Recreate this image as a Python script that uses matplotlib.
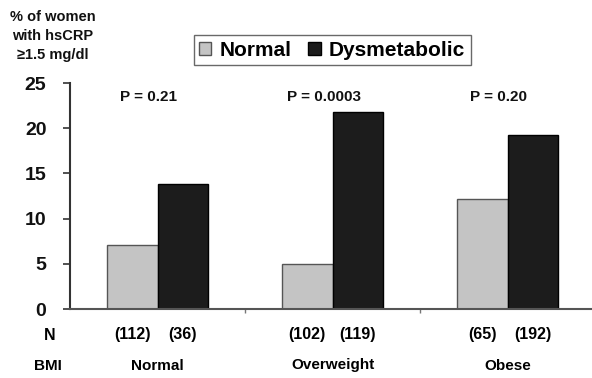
import matplotlib.pyplot as plt
import numpy as np

plt.rcParams["font.family"] = ["Liberation Sans", "DejaVu Sans"]
plt.rcParams["font.weight"] = "bold"

bmi_groups = ["Normal", "Overweight", "Obese"]
normal_pct = [7.1, 5.0, 12.2]
dysmetabolic_pct = [13.8, 21.8, 19.2]
normal_n = [112, 102, 65]
dysmetabolic_n = [36, 119, 192]
p_values = ["P = 0.21", "P = 0.0003", "P = 0.20"]
y_ticks = [0, 5, 10, 15, 20, 25]

fig = plt.figure(figsize=(5.92, 3.78), dpi=100)
ax = fig.add_axes([70 / 592, 1 - 309 / 378, 525 / 592, 226 / 378])

x = np.arange(len(bmi_groups))
w = 0.288
ax.bar(x - w / 2, normal_pct, w, color="#c4c4c4", edgecolor="#555555",
       linewidth=1.0, label="Normal")
ax.bar(x + w / 2, dysmetabolic_pct, w, color="#1c1c1c", edgecolor="#000000",
       linewidth=1.0, label="Dysmetabolic")

ax.set_xlim(-0.5, 2.5)
ax.set_ylim(0, 25)
ax.set_yticks(y_ticks)
ax.set_yticklabels([str(t) for t in y_ticks], fontsize=14, fontweight="bold",
                   color="#111111")
ax.tick_params(axis="y", length=5, width=1.2, color="#333333", pad=12)

ax.set_xticks([])
ax.set_xticks([0.5, 1.5], minor=True)
ax.tick_params(axis="x", which="minor", length=3, width=1, color="#777777")

for side in ["top", "right"]:
    ax.spines[side].set_visible(False)
ax.spines["left"].set_color("#333333")
ax.spines["left"].set_linewidth(1.5)
ax.spines["bottom"].set_color("#555555")
ax.spines["bottom"].set_linewidth(1.5)

for i, p in enumerate(p_values):
    ax.text(i - 0.05, 23.5, p, ha="center", va="center", fontsize=11,
            fontweight="bold", color="#111111")

# N and BMI rows below the axis
trans = ax.get_xaxis_transform()
for i in range(len(bmi_groups)):
    ax.text(i - w / 2, -0.115, f"({normal_n[i]})", transform=trans,
            ha="center", va="center", fontsize=11.5, fontweight="bold")
    ax.text(i + w / 2, -0.115, f"({dysmetabolic_n[i]})", transform=trans,
            ha="center", va="center", fontsize=11.5, fontweight="bold")
    ax.text(i, -0.25, bmi_groups[i], transform=trans,
            ha="center", va="center", fontsize=11, fontweight="bold")

fig.text(50 / 592, 1 - 335 / 378, "N", ha="center", va="center",
         fontsize=11.5, fontweight="bold")
fig.text(48 / 592, 1 - 366 / 378, "BMI", ha="center", va="center",
         fontsize=11, fontweight="bold")

fig.text(53 / 592, 1 - 36 / 378, "% of women\nwith hsCRP\n\u22651.5 mg/dl",
         ha="center", va="center", fontsize=10.5, fontweight="bold",
         linespacing=1.45, color="#111111")

leg = fig.legend(loc="center", bbox_to_anchor=(332 / 592, 1 - 50 / 378),
                 ncol=2, frameon=True, fancybox=False,
                 prop={"weight": "bold", "size": 15},
                 handlelength=0.6, handleheight=0.6, handletextpad=0.4,
                 columnspacing=0.8, borderpad=0.25)
leg.get_frame().set_edgecolor("#444444")
leg.get_frame().set_linewidth(1.0)

fig.savefig("out.png", dpi=100)
